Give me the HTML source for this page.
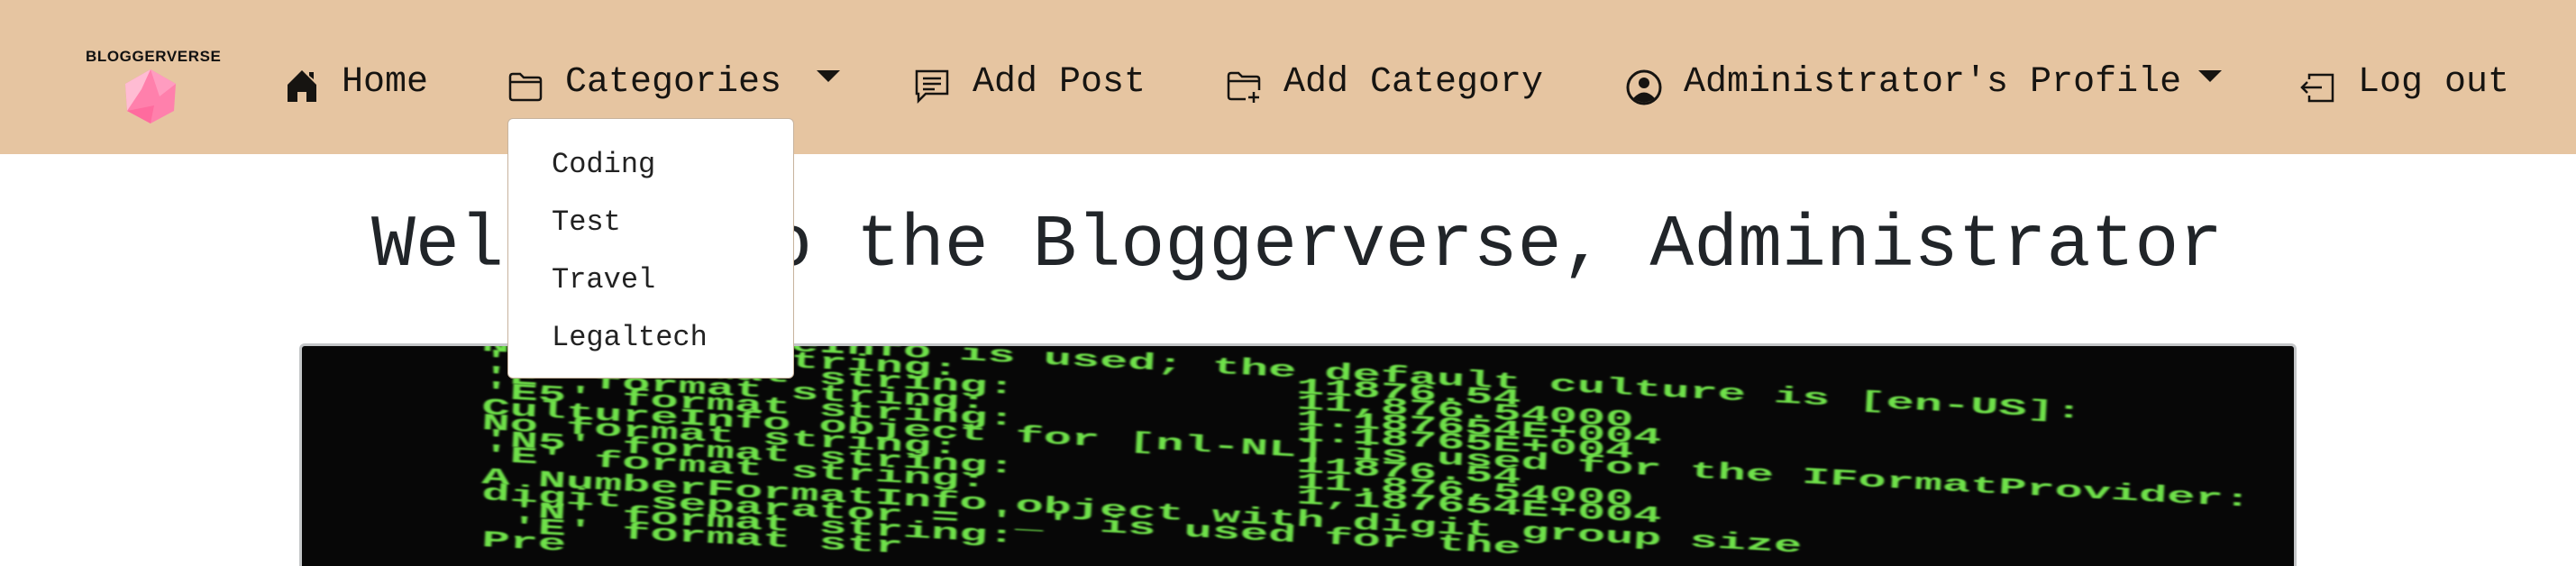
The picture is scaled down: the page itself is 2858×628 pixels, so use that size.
<!DOCTYPE html>
<html><head><meta charset="utf-8">
<style>
*{margin:0;padding:0;box-sizing:border-box}
html,body{width:2858px;height:628px;overflow:hidden;background:#fff;font-family:"Liberation Mono",monospace;color:#161411}
#hdr{position:absolute;left:0;top:0;width:2858px;height:171px;background:#e6c5a1}
.t{position:absolute;font-size:40px;line-height:40px;white-space:nowrap}
.ic{position:absolute}
#logo-text{position:absolute;left:95px;top:53px;font-family:"Liberation Sans",sans-serif;font-size:17px;font-weight:bold;letter-spacing:0.6px;color:#111}
#dd{position:absolute;left:563px;top:131px;width:318px;height:289px;background:#fff;border:1px solid #c7b39d;border-radius:6px}
.di{position:absolute;left:48px;font-size:32px;line-height:32px;color:#222}
#title{position:absolute;left:412px;top:232px;font-size:81.5px;line-height:82px;color:#212529;white-space:nowrap}
#img{position:absolute;left:332px;top:381px;width:2216px;height:247px;background:#070707;border:3px solid #c4c6c8;border-bottom:none;border-radius:6px 6px 0 0;overflow:hidden}
.cl{position:absolute;left:200px;font-family:"Liberation Mono",monospace;font-weight:bold;color:#6fe14a;font-size:26px;line-height:18px;height:18px;white-space:pre;transform:rotate(3deg) scaleX(2);transform-origin:0 0;filter:blur(0.7px)}
</style></head><body>
<div id="hdr"></div>
<div id="logo-text">BLOGGERVERSE</div>
<svg class="ic" style="left:137px;top:77px" width="60" height="60" viewBox="0 0 60 60">
<polygon points="30,0 58,16 56,46 30,60 4,46 2,16" fill="#ff80ac"/>
<polygon points="30,0 2,16 4,46 20,22" fill="#ffbcd3"/>
<polygon points="30,0 58,16 40,30" fill="#ff9cc0"/>
<polygon points="4,46 30,60 34,40" fill="#ff6b9e"/>
</svg>
<svg class="ic" style="left:317px;top:76px" width="36" height="38" viewBox="0 0 36 38"><path d="M18 2 L34 18 V37 H23 V26 H13 V37 H2 V18 Z M26 4 H31 V12 L26 8Z" fill="#161411"/></svg>
<div class="t" style="left:379px;top:72px">Home</div>
<svg class="ic" style="left:563px;top:79px" width="40" height="34" viewBox="0 0 40 34"><path d="M3 6 Q3 3 6 3 H14 L18 7 H34 Q37 7 37 10 V29 Q37 32 34 32 H6 Q3 32 3 29 Z M3 12 H37" fill="none" stroke="#161411" stroke-width="2.5"/></svg>
<div class="t" style="left:627px;top:72px">Categories</div>
<svg class="ic" style="left:906px;top:78px" width="26" height="14"><polygon points="0,0 26,0 13,13" fill="#161411"/></svg>
<svg class="ic" style="left:1013px;top:76px" width="42" height="40" viewBox="0 0 42 40"><path d="M4 3 H38 V28 H14 L6 36 V28 H4 Z M11 11 H31 M11 17 H31 M11 23 H24" fill="none" stroke="#161411" stroke-width="2.5"/></svg>
<div class="t" style="left:1079px;top:72px">Add Post</div>
<svg class="ic" style="left:1360px;top:78px" width="42" height="38" viewBox="0 0 42 38"><path d="M22 32 H6 Q3 32 3 29 V6 Q3 3 6 3 H14 L18 7 H34 Q37 7 37 10 V22 M3 12 H37 M31 24 V36 M25 30 H37" fill="none" stroke="#161411" stroke-width="2.5"/></svg>
<div class="t" style="left:1424px;top:72px">Add Category</div>
<svg class="ic" style="left:1803px;top:76px" width="42" height="42" viewBox="0 0 42 42"><circle cx="21" cy="21" r="18" fill="none" stroke="#161411" stroke-width="3"/><circle cx="21" cy="16" r="6" fill="#161411"/><path d="M9 33 Q21 20 33 33 Q21 42 9 33Z" fill="#161411"/></svg>
<div class="t" style="left:1868px;top:72px">Administrator's Profile</div>
<svg class="ic" style="left:2439px;top:78px" width="26" height="14"><polygon points="0,0 26,0 13,13" fill="#161411"/></svg>
<svg class="ic" style="left:2548px;top:78px" width="44" height="38" viewBox="0 0 44 38"><path d="M14 10 V5 H40 V34 H14 V28 M28 19 H6 M12 13 L6 19 L12 25" fill="none" stroke="#161411" stroke-width="2.5"/></svg>
<div class="t" style="left:2616px;top:72px">Log out</div>

<div id="title">Welcome to the Bloggerverse, Administrator</div>

<div id="img">
<div class="cl" style="top:-29px">   A CultureInfo is used; the default culture is [en-US]:</div>
<div class="cl" style="top:-11px">No format string:            11876.54</div>
<div class="cl" style="top:6px">'N5' format string:          11,876.54000</div>
<div class="cl" style="top:24px">'E' format string:           1.187654E+004</div>
<div class="cl" style="top:41px">'E5' format string:          1.18765E+004</div>
<div class="cl" style="top:59px">CultureInfo object for [nl-NL] is used for the IFormatProvider:</div>
<div class="cl" style="top:76px">No format string:            11876.54</div>
<div class="cl" style="top:94px">'N5' format string:          11.876,54000</div>
<div class="cl" style="top:111px">'E' format string:           1,187654E+004</div>
<div class="cl" style="top:136px">A NumberFormatInfo object with digit group size</div>
<div class="cl" style="top:154px">digit separator = '_' is used for the</div>
<div class="cl" style="top:171px"> 'N' format string:</div>
<div class="cl" style="top:189px"> 'E' format str</div>
<div class="cl" style="top:206px">Pre</div>
</div>

<div id="dd">
<div class="di" style="top:35px">Coding</div>
<div class="di" style="top:99px">Test</div>
<div class="di" style="top:163px">Travel</div>
<div class="di" style="top:227px">Legaltech</div>
</div>
</body></html>
